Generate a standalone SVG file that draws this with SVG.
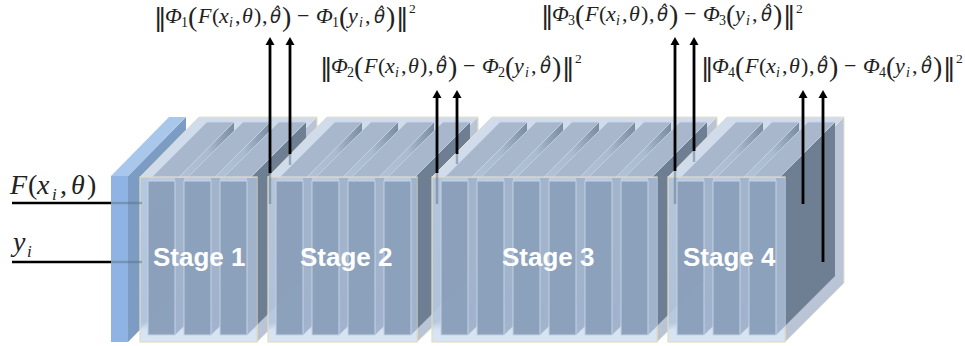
<svg xmlns="http://www.w3.org/2000/svg" width="965" height="346" viewBox="0 0 965 346">
<style>
.otop{fill:#d0dcec;stroke:#e4e0cc;stroke-width:1}
.oside{fill:#b9c5d6;stroke:#e4e0cc;stroke-width:1}
.ofront{fill:url(#frontGrad);fill-opacity:.9;stroke:#e2dcc2;stroke-width:1.2}
.ptop{fill:#a8b7cb;stroke:#c6d4e5;stroke-width:.8}
.pside{fill:url(#sideGrad)}
.pdark{fill:#6f7f93}
.pstrip{fill:#a0b2ca;fill-opacity:.95}
.pfront{fill:#8a9fba;fill-opacity:.97;stroke:#c4d2e4;stroke-width:1}
.stage{font:bold 26px "Liberation Sans",Arial,sans-serif;fill:#fff}
.wire{stroke:#000;stroke-width:2.4;fill:none}
.arrow{stroke:#000;stroke-width:2.8;fill:none;marker-end:url(#tip)}
.ghost{stroke:#5f7087;stroke-width:2.4;fill:none;opacity:.5}
.m{font-family:"Liberation Serif","DejaVu Serif",serif;font-size:22px;font-style:italic;fill:#222}
.up{font-style:normal}
.par{font-size:28px;font-style:normal;font-weight:normal}
.nrm{font-family:"DejaVu Sans",sans-serif;font-size:25px;font-style:normal}
.th{font-family:"DejaVu Sans",sans-serif;font-size:18px;font-style:oblique}
.sub{font-size:14px;font-style:normal}
.subi{font-size:14px}
.sup{font-size:13.5px;font-style:normal}
.lab{font-family:"Liberation Serif","DejaVu Serif",serif;font-size:28px;font-style:italic;fill:#222}
</style>
<defs>
<linearGradient id="frontGrad" x1="0" y1="0" x2="0" y2="1"><stop offset="0" stop-color="#bacde3"/><stop offset=".88" stop-color="#b6c9e0"/><stop offset=".93" stop-color="#d2e0f1"/><stop offset="1" stop-color="#d4e2f3"/></linearGradient>
<linearGradient id="sideGrad" x1="0" y1="0" x2="1" y2="0"><stop offset="0" stop-color="#b2c2d7"/><stop offset=".55" stop-color="#aabacf"/><stop offset="1" stop-color="#7a8ca1"/></linearGradient>
<marker id="tip" markerUnits="userSpaceOnUse" markerWidth="9" markerHeight="10" refX="1" refY="5" orient="auto"><path d="M0,0.5 L8,5 L0,9.5 z" fill="#000"/></marker>
<g id="pb"><polygon class="pside" points="27,181 86,122 86,276 27,335"/><polygon class="ptop" points="0,181 59,122 86,122 27,181"/></g>
<g id="pl"><polygon class="pdark" points="27,181 86,122 86,276 27,335"/><polygon class="ptop" points="0,181 59,122 86,122 27,181"/></g>
<g id="pf"><polygon class="pstrip" points="27,178 36,178 36,326 27,335"/><rect class="pfront" x="0" y="181" width="27" height="154"/></g>
<g id="pe"><polygon class="pstrip" points="27,178 37,178 37,325 27,335"/><rect class="pfront" x="0" y="181" width="27" height="154"/></g>
</defs>

<g id="input-slab">
<polygon points="128,176 186,117 186,283 128,342" fill="#7c9cc4"/>
<polygon points="111,176 169,117 186,117 128,176" fill="#a9c7ea"/>
<rect x="111" y="176" width="17" height="166" fill="#8fb4e3"/>
</g>

<g id="stage-1">
<polygon class="oside" points="257,177 317,117 317,283 257,342"/>
<polygon class="otop" points="140,177 199,117 317,117 257,177"/>
<use href="#pb" x="148"/><use href="#pb" x="184"/><use href="#pl" x="220"/>
<rect class="ofront" x="140" y="177" width="117" height="165"/>
<use href="#pf" x="148"/><use href="#pf" x="184"/><use href="#pe" x="220"/>
<text class="stage" x="153" y="266">Stage 1</text>
</g>

<g id="stage-2">
<polygon class="oside" points="417,177 478,117 478,283 417,342"/>
<polygon class="otop" points="268,177 327,117 478,117 417,177"/>
<use href="#pb" x="276"/><use href="#pb" x="312"/><use href="#pb" x="348"/><use href="#pl" x="384"/>
<rect class="ofront" x="268" y="177" width="149" height="165"/>
<use href="#pf" x="276"/><use href="#pf" x="312"/><use href="#pf" x="348"/>
<polygon class="pstrip" points="411,178 417,178 417,329 411,335"/>
<rect class="pfront" x="384" y="181" width="27" height="154"/>
<text class="stage" x="300" y="266">Stage 2</text>
</g>

<g id="stage-3">
<polygon class="oside" points="657,177 717,117 717,283 657,342"/>
<polygon class="otop" points="432,177 492,117 717,117 657,177"/>
<use href="#pb" x="441"/><use href="#pb" x="477"/><use href="#pb" x="513"/><use href="#pb" x="549"/><use href="#pb" x="585"/><use href="#pl" x="621"/>
<rect class="ofront" x="432" y="177" width="225" height="165"/>
<use href="#pf" x="441"/><use href="#pf" x="477"/><use href="#pf" x="513"/><use href="#pf" x="549"/><use href="#pf" x="585"/><use href="#pe" x="621"/>
<text class="stage" x="502" y="266">Stage 3</text>
</g>

<g id="stage-4">
<polygon class="oside" points="785,177 844,117 844,283 785,342"/>
<polygon class="otop" points="668,177 727,117 844,117 785,177"/>
<use href="#pb" x="677"/><use href="#pb" x="713"/><use href="#pl" x="749"/>
<rect class="ofront" x="668" y="177" width="117" height="165"/>
<use href="#pf" x="677"/><use href="#pf" x="713"/><use href="#pe" x="749"/>
<text class="stage" x="683" y="266">Stage 4</text>
</g>

<g id="connectors">
<line class="wire" x1="12" y1="203" x2="111" y2="203"/>
<line class="wire" x1="12" y1="262" x2="111" y2="262"/>
<line class="ghost" x1="111" y1="203" x2="142" y2="203"/>
<line class="ghost" x1="111" y1="262" x2="142" y2="262"/>
<line class="ghost" x1="270" y1="173" x2="270" y2="204"/>
<line class="ghost" x1="290" y1="153" x2="290" y2="165"/>
<line class="ghost" x1="437" y1="173" x2="437" y2="204"/>
<line class="ghost" x1="457" y1="153" x2="457" y2="164"/>
<line class="ghost" x1="675" y1="171" x2="675" y2="204"/>
<line class="ghost" x1="694" y1="150" x2="694" y2="162"/>
<line class="arrow" x1="270" y1="173" x2="270" y2="44"/>
<line class="arrow" x1="290" y1="154" x2="290" y2="44"/>
<line class="arrow" x1="437" y1="173" x2="437" y2="97"/>
<line class="arrow" x1="457" y1="154" x2="457" y2="97"/>
<line class="arrow" x1="675" y1="171" x2="675" y2="44"/>
<line class="arrow" x1="694" y1="151" x2="694" y2="44"/>
<line class="arrow" x1="803" y1="204" x2="803" y2="97"/>
<line class="arrow" x1="823" y1="262" x2="823" y2="97"/>
</g>

<g id="label-input-f"><text class="lab" y="194"><tspan x="10">F</tspan><tspan x="28" class="up">(</tspan><tspan x="37">x</tspan><tspan x="52" y="200" font-size="17">i</tspan><tspan x="60" y="194" class="up">,</tspan><tspan x="71">θ</tspan><tspan x="87" class="up">)</tspan></text></g>
<g id="label-input-y"><text class="lab" y="251"><tspan x="13">y</tspan><tspan x="27" y="257" font-size="17">i</tspan></text></g>

<g id="loss-1" transform="translate(156,23)"><text class="m"><tspan x="-2" y="3" class="nrm">‖</tspan><tspan x="9" y="0">Φ</tspan><tspan x="25" y="4" class="sub">1</tspan><tspan x="32" y="3" class="par">(</tspan><tspan x="42" y="0">F</tspan><tspan x="56" class="up">(</tspan><tspan x="63">x</tspan><tspan x="73" y="4" class="subi">i</tspan><tspan x="79" y="0" class="up">,</tspan><tspan x="86">θ</tspan><tspan x="98" class="up">)</tspan><tspan x="106" class="up">,</tspan><tspan x="114" class="th">θ&#x0302;</tspan><tspan x="126" y="3" class="par">)</tspan><tspan x="141" y="0" class="up">−</tspan><tspan x="160">Φ</tspan><tspan x="176" y="4" class="sub">1</tspan><tspan x="183" y="3" class="par">(</tspan><tspan x="192" y="0">y</tspan><tspan x="203" y="4" class="subi">i</tspan><tspan x="209" y="0" class="up">,</tspan><tspan x="218" class="th">θ&#x0302;</tspan><tspan x="230" y="3" class="par">)</tspan><tspan x="240" y="3" class="nrm">‖</tspan><tspan x="253" y="-10" class="sup">2</tspan></text></g>

<g id="loss-2" transform="translate(322,73)"><text class="m"><tspan x="-2" y="3" class="nrm">‖</tspan><tspan x="9" y="0">Φ</tspan><tspan x="25" y="4" class="sub">2</tspan><tspan x="32" y="3" class="par">(</tspan><tspan x="42" y="0">F</tspan><tspan x="56" class="up">(</tspan><tspan x="63">x</tspan><tspan x="73" y="4" class="subi">i</tspan><tspan x="79" y="0" class="up">,</tspan><tspan x="86">θ</tspan><tspan x="98" class="up">)</tspan><tspan x="106" class="up">,</tspan><tspan x="114" class="th">θ&#x0302;</tspan><tspan x="126" y="3" class="par">)</tspan><tspan x="141" y="0" class="up">−</tspan><tspan x="160">Φ</tspan><tspan x="176" y="4" class="sub">2</tspan><tspan x="183" y="3" class="par">(</tspan><tspan x="192" y="0">y</tspan><tspan x="203" y="4" class="subi">i</tspan><tspan x="209" y="0" class="up">,</tspan><tspan x="218" class="th">θ&#x0302;</tspan><tspan x="230" y="3" class="par">)</tspan><tspan x="240" y="3" class="nrm">‖</tspan><tspan x="253" y="-10" class="sup">2</tspan></text></g>

<g id="loss-3" transform="translate(543,21)"><text class="m"><tspan x="-2" y="3" class="nrm">‖</tspan><tspan x="9" y="0">Φ</tspan><tspan x="25" y="4" class="sub">3</tspan><tspan x="32" y="3" class="par">(</tspan><tspan x="42" y="0">F</tspan><tspan x="56" class="up">(</tspan><tspan x="63">x</tspan><tspan x="73" y="4" class="subi">i</tspan><tspan x="79" y="0" class="up">,</tspan><tspan x="86">θ</tspan><tspan x="98" class="up">)</tspan><tspan x="106" class="up">,</tspan><tspan x="114" class="th">θ&#x0302;</tspan><tspan x="126" y="3" class="par">)</tspan><tspan x="141" y="0" class="up">−</tspan><tspan x="160">Φ</tspan><tspan x="176" y="4" class="sub">3</tspan><tspan x="183" y="3" class="par">(</tspan><tspan x="192" y="0">y</tspan><tspan x="203" y="4" class="subi">i</tspan><tspan x="209" y="0" class="up">,</tspan><tspan x="218" class="th">θ&#x0302;</tspan><tspan x="230" y="3" class="par">)</tspan><tspan x="240" y="3" class="nrm">‖</tspan><tspan x="253" y="-8.5" class="sup">2</tspan></text></g>

<g id="loss-4" transform="translate(703,73)"><text class="m"><tspan x="-2" y="3" class="nrm">‖</tspan><tspan x="9" y="0">Φ</tspan><tspan x="25" y="4" class="sub">4</tspan><tspan x="32" y="3" class="par">(</tspan><tspan x="42" y="0">F</tspan><tspan x="56" class="up">(</tspan><tspan x="63">x</tspan><tspan x="73" y="4" class="subi">i</tspan><tspan x="79" y="0" class="up">,</tspan><tspan x="86">θ</tspan><tspan x="98" class="up">)</tspan><tspan x="106" class="up">,</tspan><tspan x="114" class="th">θ&#x0302;</tspan><tspan x="126" y="3" class="par">)</tspan><tspan x="141" y="0" class="up">−</tspan><tspan x="160">Φ</tspan><tspan x="176" y="4" class="sub">4</tspan><tspan x="183" y="3" class="par">(</tspan><tspan x="192" y="0">y</tspan><tspan x="203" y="4" class="subi">i</tspan><tspan x="209" y="0" class="up">,</tspan><tspan x="218" class="th">θ&#x0302;</tspan><tspan x="230" y="3" class="par">)</tspan><tspan x="240" y="3" class="nrm">‖</tspan><tspan x="253" y="-10" class="sup">2</tspan></text></g>
</svg>
